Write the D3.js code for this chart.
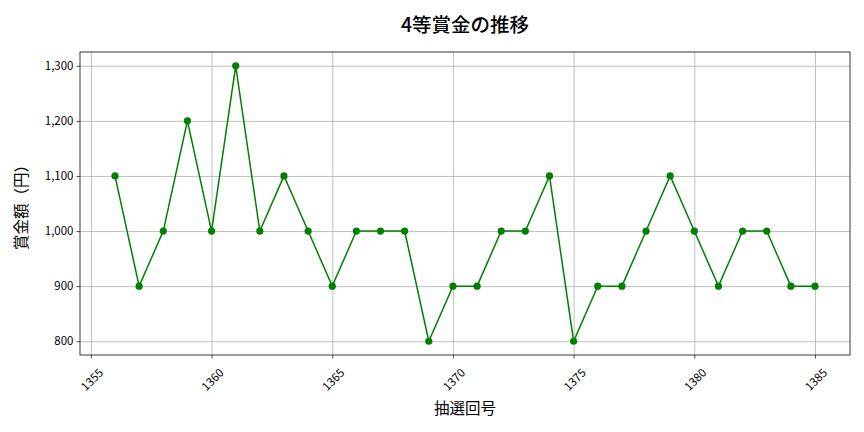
<!DOCTYPE html>
<html>
<head>
<meta charset="utf-8">
<script src="https://cdn.jsdelivr.net/npm/d3@7"></script>
<style>
  body { margin: 0; background: #fff; }
  svg { display: block; font-family: "Noto Sans CJK JP", "Noto Sans", sans-serif; }
</style>
</head>
<body>
<svg id="chart"></svg>
<script>
const drawNumbers = [1356, 1357, 1358, 1359, 1360, 1361, 1362, 1363, 1364, 1365,
  1366, 1367, 1368, 1369, 1370, 1371, 1372, 1373, 1374, 1375,
  1376, 1377, 1378, 1379, 1380, 1381, 1382, 1383, 1384, 1385];
const prizeValues = [1100, 900, 1000, 1200, 1000, 1300, 1000, 1100, 1000, 900,
  1000, 1000, 1000, 800, 900, 900, 1000, 1000, 1100, 800,
  900, 900, 1000, 1100, 1000, 900, 1000, 1000, 900, 900];
const xTicks = [1355, 1360, 1365, 1370, 1375, 1380, 1385];
const yTicks = [800, 900, 1000, 1100, 1200, 1300];

const width = 864, height = 432;
const margin = { top: 52, right: 14, bottom: 77, left: 80 };
const fontFamily = '"Noto Sans CJK JP", "Noto Sans", sans-serif';

const svg = d3.select("#chart").attr("width", width).attr("height", height);

// matplotlib-style 5% padding
const xPad = (d3.max(drawNumbers) - d3.min(drawNumbers)) * 0.05;
const yPad = (d3.max(prizeValues) - d3.min(prizeValues)) * 0.05;

const x = d3.scaleLinear()
  .domain([d3.min(drawNumbers) - xPad, d3.max(drawNumbers) + xPad])
  .range([margin.left, width - margin.right]);
const y = d3.scaleLinear()
  .domain([d3.min(prizeValues) - yPad, d3.max(prizeValues) + yPad])
  .range([height - margin.bottom, margin.top]);

const plotW = width - margin.left - margin.right;
const plotH = height - margin.top - margin.bottom;

// ── Grid ──
svg.append("g")
  .attr("transform", `translate(0,${height - margin.bottom})`)
  .call(d3.axisBottom(x).tickValues(xTicks).tickSize(-plotH).tickFormat(""))
  .call(g => g.select(".domain").remove())
  .call(g => g.selectAll(".tick line").attr("stroke", "#b0b0b0").attr("stroke-width", 0.8));

svg.append("g")
  .attr("transform", `translate(${margin.left},0)`)
  .call(d3.axisLeft(y).tickValues(yTicks).tickSize(-plotW).tickFormat(""))
  .call(g => g.select(".domain").remove())
  .call(g => g.selectAll(".tick line").attr("stroke", "#b0b0b0").attr("stroke-width", 0.8));

// ── Axes ──
const xAxis = svg.append("g")
  .attr("transform", `translate(0,${height - margin.bottom})`)
  .call(d3.axisBottom(x).tickValues(xTicks).tickSize(3.5).tickSizeOuter(0).tickFormat(d3.format("d")))
  .attr("font-family", fontFamily)
  .call(g => g.select(".domain").remove());
xAxis.selectAll(".tick line").attr("stroke", "#222").attr("stroke-width", 0.8);
xAxis.selectAll("text")
  .attr("font-size", 11.5)
  .attr("fill", "#000")
  .attr("text-anchor", "middle")
  .attr("dy", null)
  .attr("y", 0)
  .attr("dominant-baseline", "central")
  .attr("transform", "translate(0,24) rotate(-45)");

svg.append("g")
  .attr("transform", `translate(${margin.left},0)`)
  .call(d3.axisLeft(y).tickValues(yTicks).tickSize(3.5).tickSizeOuter(0).tickFormat(d3.format(",")))
  .attr("font-family", fontFamily)
  .call(g => g.select(".domain").remove())
  .call(g => g.selectAll(".tick line").attr("stroke", "#222").attr("stroke-width", 0.8))
  .call(g => g.selectAll("text").attr("font-size", 11.5).attr("fill", "#000"));

// ── Frame ──
svg.append("rect")
  .attr("x", margin.left).attr("y", margin.top)
  .attr("width", plotW).attr("height", plotH)
  .attr("fill", "none").attr("stroke", "#222").attr("stroke-width", 0.9);

// ── Line and markers ──
const points = drawNumbers.map((d, i) => ({ draw: d, value: prizeValues[i] }));

svg.append("path")
  .datum(points)
  .attr("fill", "none")
  .attr("stroke", "#008000")
  .attr("stroke-width", 1.5)
  .attr("d", d3.line().x(d => x(d.draw)).y(d => y(d.value)));

svg.append("g")
  .selectAll("circle")
  .data(points)
  .join("circle")
  .attr("cx", d => x(d.draw))
  .attr("cy", d => y(d.value))
  .attr("r", 3.6)
  .attr("fill", "#008000");

// ── Labels ──
svg.append("text")
  .attr("x", margin.left + plotW / 2)
  .attr("y", 32)
  .attr("text-anchor", "middle")
  .attr("font-size", 19.5)
  .attr("font-weight", 500)
  .attr("fill", "#000")
  .text("4等賞金の推移");

svg.append("text")
  .attr("x", margin.left + plotW / 2)
  .attr("y", 414)
  .attr("text-anchor", "middle")
  .attr("font-size", 15.5)
  .attr("fill", "#000")
  .text("抽選回号");

svg.append("text")
  .attr("transform", `translate(27,${margin.top + plotH / 2}) rotate(-90)`)
  .attr("text-anchor", "middle")
  .attr("font-size", 15.5)
  .attr("fill", "#000")
  .text("賞金額（円）");
</script>
</body>
</html>
